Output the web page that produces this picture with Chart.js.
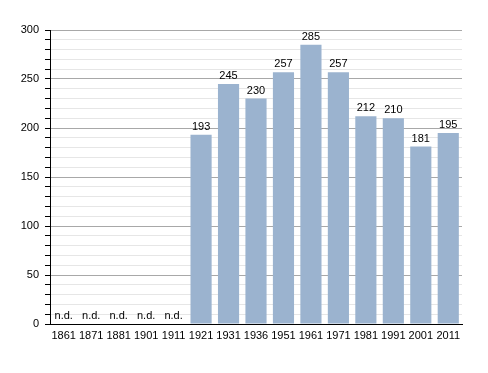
<!DOCTYPE html>
<html>
<head>
<meta charset="utf-8">
<script src="https://cdn.jsdelivr.net/npm/chart.js@4"></script>
<style>
  html, body { margin: 0; padding: 0; background: #fff; }
  #wrap { width: 488px; height: 373px; }
</style>
</head>
<body>
<div id="wrap"><canvas id="popChart" width="488" height="373"></canvas></div>
<script>
// census years and population (null = no data, shown as "n.d.")
const years = ['1861', '1871', '1881', '1901', '1911', '1921', '1931', '1936', '1951', '1961', '1971', '1981', '1991', '2001', '2011'];
const population = [null, null, null, null, null, 193, 245, 230, 257, 285, 257, 212, 210, 181, 195];
const yTicks = [0, 50, 100, 150, 200, 250, 300];

const FONT = 'Liberation Sans, Arial, sans-serif';

// writes the value above each bar, or "n.d." where there is no value
const barLabels = {
  id: 'barLabels',
  afterDatasetsDraw(chart) {
    const ctx = chart.ctx;
    const meta = chart.getDatasetMeta(0);
    const yScale = chart.scales.y;
    ctx.save();
    ctx.font = '11px ' + FONT;
    ctx.fillStyle = '#000';
    ctx.textAlign = 'center';
    ctx.textBaseline = 'alphabetic';
    meta.data.forEach((bar, i) => {
      const v = population[i];
      if (v === null) {
        ctx.fillText('n.d.', bar.x, yScale.getPixelForValue(0) - 5);
      } else {
        ctx.fillText(String(v), bar.x, bar.y - 5);
      }
    });
    ctx.restore();
  }
};

new Chart(document.getElementById('popChart'), {
  type: 'bar',
  data: {
    labels: years,
    datasets: [{
      data: population,
      backgroundColor: '#9bb3cf',
      borderWidth: 0,
      barPercentage: 0.77,
      categoryPercentage: 1.0
    }]
  },
  options: {
    responsive: false,
    animation: false,
    layout: { padding: { top: 30, right: 26, bottom: 27, left: 0 } },
    plugins: {
      legend: { display: false },
      tooltip: { enabled: false }
    },
    scales: {
      x: {
        grid: { display: false, drawTicks: false },
        border: { color: '#000', width: 1 },
        ticks: { color: '#000', font: { family: FONT, size: 11 }, padding: 5, maxRotation: 0, autoSkip: false },
        afterFit(scale) { scale.height = 22; }
      },
      y: {
        min: 0,
        max: 300,
        ticks: {
          stepSize: 10,
          autoSkip: false,
          color: '#000',
          font: { family: FONT, size: 11 },
          padding: 6,
          callback: v => (yTicks.includes(v) ? v : '')
        },
        grid: {
          color: c => (c.tick && c.tick.value % 50 === 0 ? '#a8a8a8' : '#e6e6e6'),
          tickColor: '#000',
          tickLength: 5,
          lineWidth: 1
        },
        border: { color: '#000', width: 1 },
        afterFit(scale) { scale.width = 50; }
      }
    }
  },
  plugins: [barLabels]
});
</script>
</body>
</html>
